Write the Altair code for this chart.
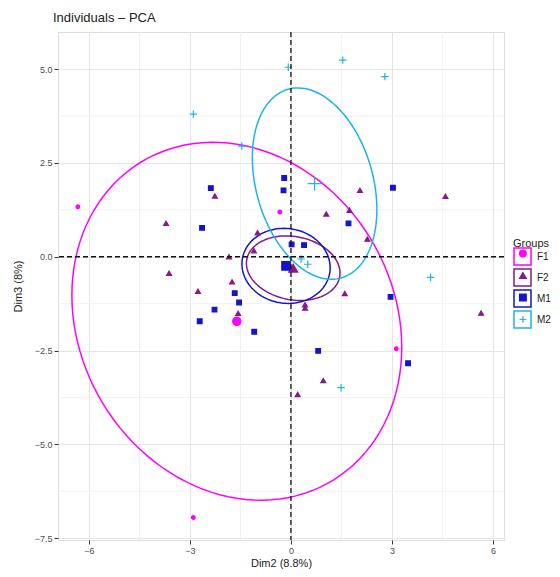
import altair as alt
import numpy as np
import pandas as pd

# ---------------- data ----------------
groups = ["F1", "F2", "M1", "M2"]
colors = ["#FF00FF", "#87198A", "#1414CC", "#1DB4EA"]
shapes = ["circle", "triangle-up", "square", "M-1,0L1,0M0,-1L0,1"]

f1_x = [-6.33, -0.33, 3.13, -2.90]
f1_y = [1.33, 1.19, -2.45, -6.95]

f2_x = [-2.26, -3.71, -0.99, -1.10, -1.84, -3.62, 2.05, 4.59, 1.05, 1.74,
        2.27, -1.75, -2.76, -1.57, 0.20, 1.60, 0.42, 0.42, 5.65, 0.96]
f2_y = [1.62, 0.89, 0.64, 0.16, 0.00, -0.44, 1.77, 1.61, 1.14, 1.24,
        0.47, -0.67, -0.92, -1.51, -3.67, -0.98, -1.28, -1.37, -1.50, -3.30]

m1_x = [-2.38, -2.64, -0.20, -0.22, 3.03, 1.71, 0.02, 0.39,
        -1.67, -1.54, -2.27, -2.71, -1.09, 2.96, 0.81, 3.48]
m1_y = [1.83, 0.77, 2.10, 1.77, 1.84, 0.89, 0.33, 0.31,
        -0.97, -1.22, -1.41, -1.72, -2.00, -1.07, -2.51, -2.84]

m2_x = [-2.90, -1.46, -0.08, 1.54, 2.79, 0.30, 0.50, 4.15, 1.49]
m2_y = [3.80, 2.95, 5.05, 5.24, 4.80, -0.06, -0.20, -0.55, -3.49]

# confidence ellipses (x half-extent, y half-extent, correlation) per group
ell_sx = [4.90, 1.39, 1.31, 1.85]
ell_sy = [4.77, 0.86, 1.00, 2.55]
ell_r = [-0.145, -0.15, -0.05, -0.27]

x_ticks = [-6, -3, 0, 3, 6]
y_ticks = [-7.5, -5.0, -2.5, 0.0, 2.5, 5.0]
x_minor = [-4.5, -1.5, 1.5, 4.5]
y_minor = [-6.25, -3.75, -1.25, 1.25, 3.75]
zero = [0]

# ---------------- frames ----------------
xs = {"F1": f1_x, "F2": f2_x, "M1": m1_x, "M2": m2_x}
ys = {"F1": f1_y, "F2": f2_y, "M1": m1_y, "M2": m2_y}
ind_size = {"F1": 14, "F2": 24, "M1": 22, "M2": 55}
mean_size = {"F1": 70, "F2": 80, "M1": 72, "M2": 190}

rows = []
for g in groups:
    for x, y in zip(xs[g], ys[g]):
        rows.append({"x": x, "y": y, "group": g, "sz": ind_size[g]})
for g in groups:
    rows.append({"x": float(np.mean(xs[g])), "y": float(np.mean(ys[g])),
                 "group": g, "sz": mean_size[g]})
pts = pd.DataFrame(rows)

erows = []
t = np.linspace(0, 2 * np.pi, 121)
for k, g in enumerate(groups):
    cx, cy = np.mean(xs[g]), np.mean(ys[g])
    sx, sy, r = ell_sx[k], ell_sy[k], ell_r[k]
    ex = cx + sx * np.cos(t)
    ey = cy + sy * (r * np.cos(t) + np.sqrt(1 - r * r) * np.sin(t))
    for i, (a, b) in enumerate(zip(ex, ey)):
        erows.append({"x": a, "y": b, "group2": g, "i": i})
ell = pd.DataFrame(erows)

# ---------------- chart ----------------
FONT = "Liberation Sans"
xdom = [-6.92, 6.33]
ydom = [-7.55, 5.99]

xscale = alt.Scale(domain=xdom, nice=False, zero=False)
yscale = alt.Scale(domain=ydom, nice=False, zero=False)

xaxis = alt.Axis(values=x_ticks, title="Dim2 (8.8%)", grid=True, gridColor="#E6E6E6",
                 domain=False, tickColor="#333333", tickSize=4, labelColor="#4D4D4D",
                 labelFontSize=9, labelFont=FONT, labelPadding=2, titleFont=FONT,
                 titleFontSize=11, titleFontWeight="normal", titleColor="#222222",
                 titlePadding=2)
yaxis = alt.Axis(values=y_ticks, format=".1f", title="Dim3 (8%)", grid=True,
                 gridColor="#E6E6E6", domain=False, tickColor="#333333", tickSize=4,
                 labelColor="#4D4D4D", labelFontSize=9, labelFont=FONT, labelPadding=2,
                 titleFont=FONT, titleFontSize=11, titleFontWeight="normal",
                 titleColor="#222222", titlePadding=11)

base_x = alt.X("x:Q", scale=xscale, axis=xaxis)
base_y = alt.Y("y:Q", scale=yscale, axis=yaxis)

minor_x = alt.Chart(pd.DataFrame({"v": x_minor})).mark_rule(
    color="#EEEEEE", strokeWidth=0.8).encode(x=alt.X("v:Q", scale=xscale, axis=xaxis))
minor_y = alt.Chart(pd.DataFrame({"v": y_minor})).mark_rule(
    color="#EEEEEE", strokeWidth=0.8).encode(y=alt.Y("v:Q", scale=yscale, axis=yaxis))

# legend with framed keys (from the ellipse layer) and labels
box_legend = alt.Legend(title="Groups", orient="none", legendX=455, legendY=206,
                        symbolType="square", symbolSize=289, symbolStrokeWidth=1.5,
                        symbolFillColor="transparent", symbolOpacity=1,
                        labelFont=FONT, labelFontSize=10, labelColor="#222222",
                        labelOffset=5, rowPadding=-5, titleFont=FONT, titleFontSize=11,
                        titleFontWeight="normal", titleColor="#222222", titlePadding=-2,
                        padding=0)

ellipses = alt.Chart(ell).mark_line(strokeWidth=1.5).encode(
    x=base_x, y=base_y,
    stroke=alt.Stroke("group2:N", scale=alt.Scale(range=colors), legend=box_legend),
    detail="group2:N",
    order=alt.Order("i:Q"),
)

# legend with the point symbols, drawn inside the frames
pt_legend = alt.Legend(title=None, orient="none", legendX=460.9, legendY=217.5,
                       symbolSize=45, symbolStrokeWidth=1.2, symbolOpacity=1,
                       labelExpr="''", labelFontSize=6, labelOffset=0,
                       rowPadding=10, padding=0)

points = alt.Chart(pts).mark_point(filled=False, strokeWidth=1.2, opacity=1).encode(
    x=base_x, y=base_y,
    color=alt.Color("group:N", scale=alt.Scale(domain=groups, range=colors), legend=pt_legend),
    fill=alt.Fill("group:N", scale=alt.Scale(domain=groups, range=colors), legend=pt_legend),
    shape=alt.Shape("group:N", scale=alt.Scale(domain=groups, range=shapes), legend=pt_legend),
    size=alt.Size("sz:Q", scale=None),
)

vline = alt.Chart(pd.DataFrame({"v": zero})).mark_rule(
    color="#111111", strokeWidth=1.3, strokeDash=[5, 3]).encode(
    x=alt.X("v:Q", scale=xscale, axis=xaxis))
hline = alt.Chart(pd.DataFrame({"v": zero})).mark_rule(
    color="#111111", strokeWidth=1.3, strokeDash=[5, 3]).encode(
    y=alt.Y("v:Q", scale=yscale, axis=yaxis))

chart = alt.layer(minor_x, minor_y, ellipses, points, vline, hline).properties(
    width=446, height=508,
    autosize=alt.AutoSizeParams(type="none"),
    padding={"left": 50, "top": 24, "right": 48, "bottom": 29},
    title=alt.TitleParams("Individuals \u2013 PCA", anchor="start", frame="group",
                          font=FONT, fontSize=13, fontWeight="normal", color="#222222",
                          dx=-5, offset=6),
).configure_view(stroke=None).configure(background="white")

chart.save("out.html", embed_options={"renderer": "svg", "actions": False})
